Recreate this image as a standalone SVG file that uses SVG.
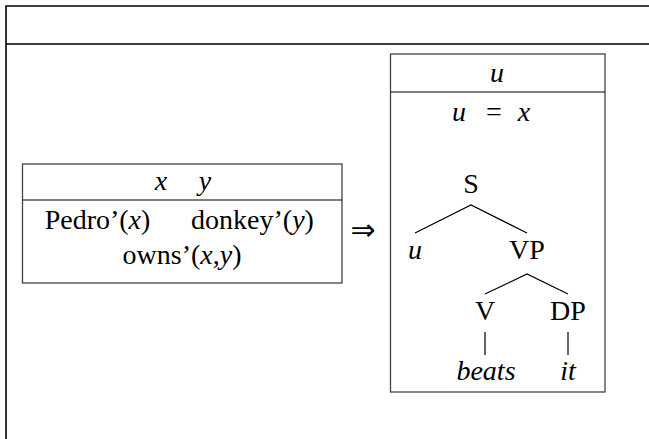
<svg xmlns="http://www.w3.org/2000/svg" width="649" height="439" viewBox="0 0 649 439">
<style>
.t{font-family:"Liberation Serif","DejaVu Serif",serif;font-size:28px;fill:#000;text-anchor:middle}
.i{font-style:italic}
.box{fill:#fff;stroke:#444;stroke-width:1.3}
.ln{stroke:#000;stroke-width:1.2;fill:none}
.frame{stroke:#000;stroke-width:1.6;fill:none}
</style>
<rect width="649" height="439" fill="#fff"/>
<g id="frame">
<path class="frame" d="M6,439 V6 H649 M6,44 H649"/>
</g>
<g id="drs-left">
<rect class="box" x="22.5" y="164" width="319.5" height="119"/>
<line class="ln" x1="22.5" y1="200" x2="342" y2="200" stroke="#444"/>
<text class="t i" x="161" y="190">x</text>
<text class="t i" x="205" y="190">y</text>
<text class="t" x="97.5" y="229">Pedro’(<tspan class="i">x</tspan>)</text>
<text class="t" x="252.5" y="229">donkey’(<tspan class="i">y</tspan>)</text>
<text class="t" x="182" y="264">owns’(<tspan class="i">x</tspan>,<tspan class="i">y</tspan>)</text>
</g>
<g id="arrow">
<text x="363" y="240" style="font-family:'DejaVu Sans',sans-serif;font-size:30px;text-anchor:middle">⇒</text>
</g>
<g id="drs-right">
<rect class="box" x="390.5" y="54" width="214.5" height="338"/>
<line class="ln" x1="390.5" y1="92" x2="605" y2="92" stroke="#444"/>
<text class="t i" x="497" y="82">u</text>
<text class="t i" x="459" y="121">u</text>
<text class="t" x="494" y="121">=</text>
<text class="t i" x="524" y="121">x</text>
</g>
<g id="tree-edges">
<path class="ln" d="M415,233 L471,205 L527,233 M485,294 L527,274 L568,294 M485,332 V355 M568,332 V355"/>
</g>
<g id="node-S"><text class="t" x="471" y="193">S</text></g>
<g id="node-u"><text class="t i" x="415" y="259">u</text></g>
<g id="node-VP"><text class="t" x="527" y="259">VP</text></g>
<g id="node-V"><text class="t" x="485" y="320">V</text></g>
<g id="node-DP"><text class="t" x="568" y="320">DP</text></g>
<g id="node-beats"><text class="t i" x="486" y="380">beats</text></g>
<g id="node-it"><text class="t i" x="568" y="380">it</text></g>
</svg>
